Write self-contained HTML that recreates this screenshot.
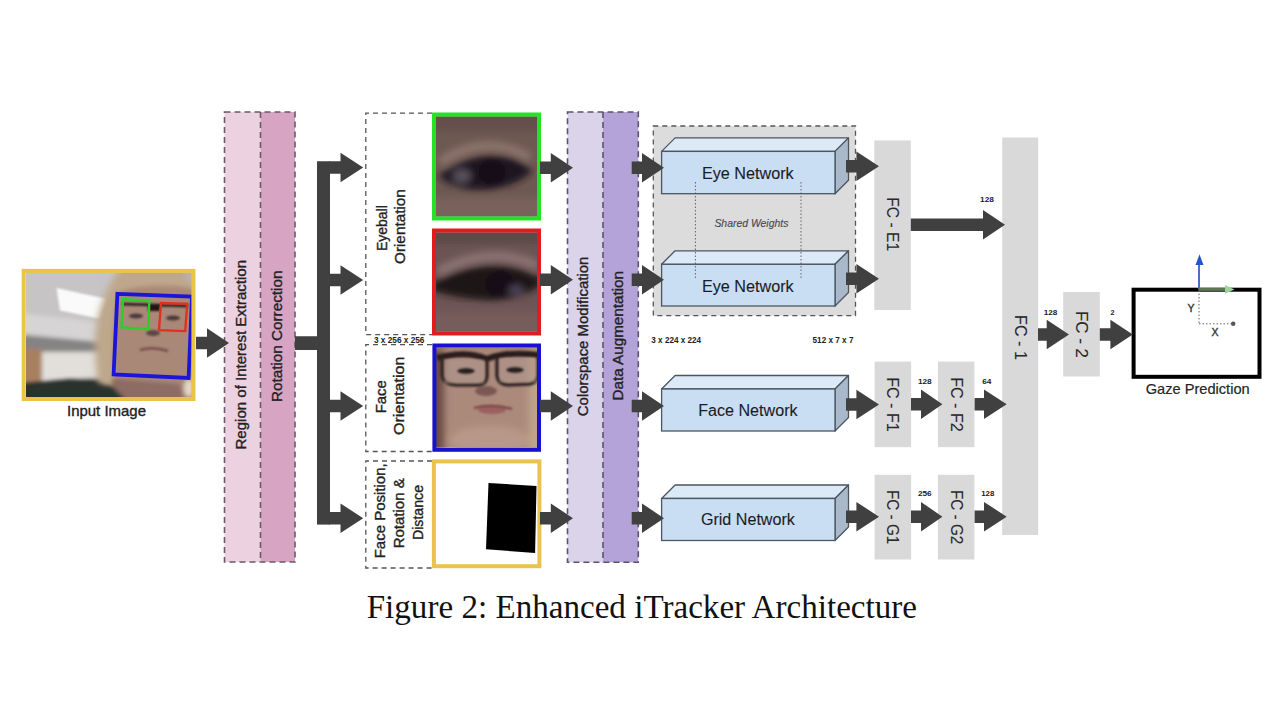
<!DOCTYPE html>
<html><head><meta charset="utf-8"><style>
html,body{margin:0;padding:0;background:#fff;width:1280px;height:720px;overflow:hidden}
svg{display:block}
</style></head><body>
<svg width="1280" height="720" viewBox="0 0 1280 720">
<rect width="1280" height="720" fill="#fff"/>
<g>
<defs>
<filter id="bl1" x="-20%" y="-20%" width="140%" height="140%"><feGaussianBlur stdDeviation="2"/></filter>
<filter id="bl2" x="-20%" y="-20%" width="140%" height="140%"><feGaussianBlur stdDeviation="3.5"/></filter>
<filter id="bl3" x="-20%" y="-20%" width="140%" height="140%"><feGaussianBlur stdDeviation="1.2"/></filter>
<filter id="bl4" x="-20%" y="-20%" width="140%" height="140%"><feGaussianBlur stdDeviation="0.8"/></filter>
<clipPath id="cpIn"><rect x="26" y="272.5" width="166" height="125"/></clipPath>
<clipPath id="cpE1"><rect x="436" y="116.5" width="101" height="100"/></clipPath>
<clipPath id="cpE2"><rect x="436" y="232.5" width="101" height="99"/></clipPath>
<clipPath id="cpF"><rect x="436" y="347.5" width="101" height="100"/></clipPath>
</defs>
<g clip-path="url(#cpIn)">
 <rect x="20" y="265" width="180" height="140" fill="#c2c0c0"/>
 <g filter="url(#bl1)">
  <rect x="10" y="260" width="120" height="60" fill="#c6c4c5"/>
  <polygon points="10,312 125,325 125,345 10,332" fill="#d6d4d4"/>
  <polygon points="10,334 125,344 125,358 10,352" fill="#858383"/>
  <rect x="10" y="352" width="120" height="34" fill="#e2deda"/>
  <rect x="10" y="349" width="32" height="36" fill="#a88060"/>
  <polygon points="10,384 60,380 100,378 135,384 135,410 10,410" fill="#2a2e2c"/>
 </g>
 <polygon points="56.5,288 107,299 99.8,318.7 60,310.6" fill="#fafafa" filter="url(#bl4)"/>
 <g filter="url(#bl2)">
  <path d="M200,260 L126,262 Q100,290 95,335 Q94,375 104,410 L200,410 Z" fill="#bea78a"/>
  <polygon points="178,262 200,262 200,300" fill="#b8b4b2"/>
 </g>
 <g filter="url(#bl1)">
  <path d="M200,292 L190,288 Q150,282 118,292 Q112,330 114,372 L122,410 L200,410 Z" fill="#a98878"/>
  <path d="M112,378 L180,384 L186,410 L112,410 Z" fill="#8c6c64"/>
  <ellipse cx="189" cy="388" rx="5" ry="9" fill="#e4d8c8"/>
  <polygon points="20,386 70,380 112,386 124,398 124,410 20,410" fill="#2c302e"/>
 </g>
 <g filter="url(#bl4)">
  <path d="M122,304 L188,306" stroke="#1e1818" stroke-width="2.4"/>
  <rect x="148" y="305" width="12" height="6" fill="#201818"/>
  <ellipse cx="136" cy="316" rx="7" ry="2.5" fill="#4a3a3a"/>
  <ellipse cx="173" cy="318" rx="7" ry="2.5" fill="#4a3a3a"/>
  <ellipse cx="153" cy="333" rx="7" ry="3" fill="#5e4444"/>
  <path d="M140,350 Q153,346 168,351" stroke="#7a4c4a" stroke-width="2.6" fill="none"/>
 </g>
</g>
<polygon points="117.4,293.8 192,296.5 188.6,378 113.6,374.5" fill="none" stroke="#1c14d8" stroke-width="3.8"/>
<polygon points="123,299 149.3,301 148.3,329.2 121.5,327.2" fill="none" stroke="#28d028" stroke-width="2.4"/>
<polygon points="161,303 187.2,303.9 185.2,331.1 159,330.1" fill="none" stroke="#e03020" stroke-width="2.4"/>
<rect x="23.7" y="270.9" width="169.7" height="128.1" fill="none" stroke="#e9c447" stroke-width="4"/>
</g>
<text x="106.5" y="410.5" font-family="Liberation Sans" font-size="14.5" font-weight="normal" font-style="normal" fill="#222" stroke="#222" stroke-width="0.35" text-anchor="middle" dominant-baseline="central" textLength="79" lengthAdjust="spacingAndGlyphs" >Input Image</text>
<rect x="224.5" y="112" width="36" height="450" fill="#ecd1e1"/>
<rect x="260.5" y="112" width="34.5" height="450" fill="#d7a5c3"/>
<rect x="224.5" y="112" width="70.5" height="450" stroke="#6a5a66" stroke-width="1.6" stroke-dasharray="6,4" fill="none"/>
<line x1="260.5" y1="112" x2="260.5" y2="562" stroke="#6a5a66" stroke-width="1.6" stroke-dasharray="6,4" fill="none"/>
<text x="241.5" y="354.7" font-family="Liberation Sans" font-size="14.5" font-weight="normal" font-style="normal" fill="#222" stroke="#222" stroke-width="0.35" text-anchor="middle" dominant-baseline="central" textLength="189.6" lengthAdjust="spacingAndGlyphs" transform="rotate(-90 241.5 354.7)" >Region of Interest Extraction</text>
<text x="276.6" y="336.3" font-family="Liberation Sans" font-size="14.5" font-weight="normal" font-style="normal" fill="#222" stroke="#222" stroke-width="0.35" text-anchor="middle" dominant-baseline="central" textLength="131.4" lengthAdjust="spacingAndGlyphs" transform="rotate(-90 276.6 336.3)" >Rotation Correction</text>
<rect x="295" y="336.25" width="23" height="13.75" fill="#404040"/>
<rect x="317" y="161.25" width="13" height="363.35" fill="#404040"/>
<path d="M432,113.2 L365.8,113.2 L365.8,334.6 L432,334.6" stroke="#555" stroke-width="1.3" stroke-dasharray="5,4" fill="none"/>
<path d="M432,344.6 L365.8,344.6 L365.8,451.5 L432,451.5" stroke="#555" stroke-width="1.3" stroke-dasharray="5,4" fill="none"/>
<path d="M432,461 L365.8,461 L365.8,568 L432,568" stroke="#555" stroke-width="1.3" stroke-dasharray="5,4" fill="none"/>
<text x="381.7" y="228.1" font-family="Liberation Sans" font-size="14.5" font-weight="normal" font-style="normal" fill="#222" stroke="#222" stroke-width="0.35" text-anchor="middle" dominant-baseline="central" textLength="45.8" lengthAdjust="spacingAndGlyphs" transform="rotate(-90 381.7 228.1)" >Eyeball</text>
<text x="400.5" y="226.6" font-family="Liberation Sans" font-size="14.5" font-weight="normal" font-style="normal" fill="#222" stroke="#222" stroke-width="0.35" text-anchor="middle" dominant-baseline="central" textLength="74.8" lengthAdjust="spacingAndGlyphs" transform="rotate(-90 400.5 226.6)" >Orientation</text>
<text x="380.8" y="396.7" font-family="Liberation Sans" font-size="14.5" font-weight="normal" font-style="normal" fill="#222" stroke="#222" stroke-width="0.35" text-anchor="middle" dominant-baseline="central" textLength="33.3" lengthAdjust="spacingAndGlyphs" transform="rotate(-90 380.8 396.7)" >Face</text>
<text x="398.6" y="395.8" font-family="Liberation Sans" font-size="14.5" font-weight="normal" font-style="normal" fill="#222" stroke="#222" stroke-width="0.35" text-anchor="middle" dominant-baseline="central" textLength="78.3" lengthAdjust="spacingAndGlyphs" transform="rotate(-90 398.6 395.8)" >Orientation</text>
<text x="379.6" y="510.8" font-family="Liberation Sans" font-size="14.5" font-weight="normal" font-style="normal" fill="#222" stroke="#222" stroke-width="0.35" text-anchor="middle" dominant-baseline="central" textLength="95" lengthAdjust="spacingAndGlyphs" transform="rotate(-90 379.6 510.8)" >Face Position,</text>
<text x="399.3" y="513.3" font-family="Liberation Sans" font-size="14.5" font-weight="normal" font-style="normal" fill="#222" stroke="#222" stroke-width="0.35" text-anchor="middle" dominant-baseline="central" textLength="70" lengthAdjust="spacingAndGlyphs" transform="rotate(-90 399.3 513.3)" >Rotation &amp;</text>
<text x="417.8" y="512.5" font-family="Liberation Sans" font-size="14.5" font-weight="normal" font-style="normal" fill="#222" stroke="#222" stroke-width="0.35" text-anchor="middle" dominant-baseline="central" textLength="55" lengthAdjust="spacingAndGlyphs" transform="rotate(-90 417.8 512.5)" >Distance</text>
<text x="399.2" y="339.6" font-family="Liberation Sans" font-size="8.5" font-weight="bold" font-style="normal" fill="#222" stroke="#222" stroke-width="0" text-anchor="middle" dominant-baseline="central" textLength="50.4" lengthAdjust="spacingAndGlyphs" >3 x 256 x 256</text>
<g clip-path="url(#cpE1)">
<rect x="430" y="110" width="115" height="115" fill="#6e5852"/>
<g filter="url(#bl2)">
 <rect x="425" y="105" width="120" height="26" fill="#64504c"/>
 <path d="M440,162 Q486,132 530,158" stroke="#8c746c" stroke-width="9" fill="none"/>
 <path d="M438,176 Q470,152 500,156 Q522,158 532,172 Q510,190 480,190 Q455,190 438,176 Z" fill="#1e1820"/>
 <ellipse cx="462" cy="176" rx="9" ry="7" fill="#56505c"/>
 <ellipse cx="492" cy="172" rx="14" ry="12" fill="#141018"/>
 <rect x="425" y="198" width="120" height="28" fill="#7a625c"/>
</g>
</g>
<rect x="434" y="114.5" width="105" height="104" fill="none" stroke="#26e226" stroke-width="4"/>
<g clip-path="url(#cpE2)">
<rect x="430" y="225" width="115" height="115" fill="#6c5454"/>
<g filter="url(#bl2)">
 <rect x="425" y="220" width="120" height="24" fill="#5e4a4a"/>
 <path d="M438,272 Q490,244 538,266" stroke="#8e7474" stroke-width="9" fill="none"/>
 <path d="M430,284 Q470,262 505,266 Q530,270 545,282 Q520,302 485,300 Q455,298 430,290 Z" fill="#1c1619"/>
 <ellipse cx="500" cy="284" rx="15" ry="12" fill="#120e12"/>
 <ellipse cx="516" cy="290" rx="8" ry="5" fill="#4a4254"/>
 <rect x="425" y="310" width="120" height="28" fill="#765c5a"/>
</g>
</g>
<rect x="434" y="230.5" width="105" height="103" fill="none" stroke="#e21c1c" stroke-width="4"/>
<g clip-path="url(#cpF)">
<rect x="430" y="340" width="115" height="115" fill="#ab8a7c"/>
<g filter="url(#bl2)">
 <rect x="425" y="335" width="19" height="120" fill="#6a4c42"/>
 <rect x="529" y="335" width="16" height="120" fill="#c0a488"/>
 <ellipse cx="490" cy="440" rx="40" ry="14" fill="#b89888"/>
 <rect x="425" y="335" width="120" height="14" fill="#a08070"/>
</g>
<g filter="url(#bl4)">
 <path d="M437,358 Q466,350 487,359 Q506,351 540,355" stroke="#2a1e1e" stroke-width="6" fill="none"/>
 <path d="M442,358 L442,376 Q444,384 456,385 L478,385 Q487,384 487,376 L487,360" stroke="#352826" stroke-width="3.6" fill="none"/>
 <path d="M497,358 L497,376 Q498,384 508,385 L530,384 Q538,382 538,374 L538,356" stroke="#352826" stroke-width="3.6" fill="none"/>
 <rect x="445" y="360" width="39" height="23" fill="#b0988e" opacity="0.55"/>
 <rect x="500" y="359" width="36" height="23" fill="#b0988e" opacity="0.55"/>
 <ellipse cx="466" cy="371" rx="9" ry="3.2" fill="#2c2020"/>
 <ellipse cx="515" cy="370" rx="9" ry="3.2" fill="#2c2020"/>
 <ellipse cx="486" cy="391" rx="11" ry="5" fill="#7c5852"/>
 <ellipse cx="492" cy="410" rx="14" ry="4" fill="#9a6060"/>
 <path d="M474,408 Q492,403 512,409" stroke="#7a3e3e" stroke-width="2.2" fill="none"/>
</g>
</g>
<rect x="434.4" y="345.5" width="104.6" height="104.3" fill="none" stroke="#1a10d0" stroke-width="4"/>
<rect x="433.9" y="461.4" width="105.5" height="104.8" fill="#fff" stroke="#e9c24f" stroke-width="4"/>
<polygon points="488.5,482.9 536.5,486.1 535.1,552.9 486,549.3" fill="#000"/>
<rect x="567.5" y="112" width="35.5" height="450.3" fill="#dbd3ea"/>
<rect x="603" y="112" width="35.3" height="450.3" fill="#b3a3d8"/>
<rect x="567.5" y="112" width="70.8" height="450.3" stroke="#5a5566" stroke-width="1.6" stroke-dasharray="6,4" fill="none"/>
<line x1="603" y1="112" x2="603" y2="562.3" stroke="#5a5566" stroke-width="1.6" stroke-dasharray="6,4" fill="none"/>
<text x="583.4" y="336.4" font-family="Liberation Sans" font-size="14.5" font-weight="normal" font-style="normal" fill="#222" stroke="#222" stroke-width="0.35" text-anchor="middle" dominant-baseline="central" textLength="159.6" lengthAdjust="spacingAndGlyphs" transform="rotate(-90 583.4 336.4)" >Colorspace Modification</text>
<text x="618.2" y="335.7" font-family="Liberation Sans" font-size="14.5" font-weight="normal" font-style="normal" fill="#222" stroke="#222" stroke-width="0.35" text-anchor="middle" dominant-baseline="central" textLength="129.4" lengthAdjust="spacingAndGlyphs" transform="rotate(-90 618.2 335.7)" >Data Augmentation</text>
<rect x="653.3" y="126" width="202.2" height="189.6" fill="#dcdcdc" stroke="#555" stroke-width="1.3" stroke-dasharray="5,4"/>
<text x="751.4" y="223" font-family="Liberation Sans" font-size="11.5" font-weight="normal" font-style="italic" fill="#4a4a4a" stroke="#4a4a4a" stroke-width="0.15" text-anchor="middle" dominant-baseline="central" textLength="74" lengthAdjust="spacingAndGlyphs" >Shared Weights</text>
<polygon points="661.6,151.4 675.1,137.9 848.5,137.9 835,151.4" fill="#dce9f7" stroke="#4a5661" stroke-width="1.3" stroke-linejoin="round"/>
<polygon points="835,151.4 848.5,137.9 848.5,180.2 835,193.7" fill="#a9b9cb" stroke="#4a5661" stroke-width="1.3" stroke-linejoin="round"/>
<rect x="661.6" y="151.4" width="173.39999999999998" height="42.29999999999998" fill="#c9def3" stroke="#4a5661" stroke-width="1.3"/>
<text x="747.8" y="173.6" font-family="Liberation Sans" font-size="16" font-weight="normal" font-style="normal" fill="#1c1c28" stroke="#1c1c28" stroke-width="0.1" text-anchor="middle" dominant-baseline="central" textLength="91.8" lengthAdjust="spacingAndGlyphs" >Eye Network</text>
<polygon points="661.6,264.3 675.1,250.8 848.5,250.8 835,264.3" fill="#dce9f7" stroke="#4a5661" stroke-width="1.3" stroke-linejoin="round"/>
<polygon points="835,264.3 848.5,250.8 848.5,292.5 835,306" fill="#a9b9cb" stroke="#4a5661" stroke-width="1.3" stroke-linejoin="round"/>
<rect x="661.6" y="264.3" width="173.39999999999998" height="41.69999999999999" fill="#c9def3" stroke="#4a5661" stroke-width="1.3"/>
<text x="747.8" y="286.5" font-family="Liberation Sans" font-size="16" font-weight="normal" font-style="normal" fill="#1c1c28" stroke="#1c1c28" stroke-width="0.1" text-anchor="middle" dominant-baseline="central" textLength="91.8" lengthAdjust="spacingAndGlyphs" >Eye Network</text>
<line x1="695.4" y1="182" x2="695.4" y2="278" stroke="#555" stroke-width="0.9" stroke-dasharray="1.5,2"/>
<line x1="801" y1="182" x2="801" y2="278" stroke="#555" stroke-width="0.9" stroke-dasharray="1.5,2"/>
<polygon points="661.6,389 675.1,375.5 848.5,375.5 835,389" fill="#dce9f7" stroke="#4a5661" stroke-width="1.3" stroke-linejoin="round"/>
<polygon points="835,389 848.5,375.5 848.5,417.5 835,431" fill="#a9b9cb" stroke="#4a5661" stroke-width="1.3" stroke-linejoin="round"/>
<rect x="661.6" y="389" width="173.39999999999998" height="42" fill="#c9def3" stroke="#4a5661" stroke-width="1.3"/>
<text x="747.9" y="410.4" font-family="Liberation Sans" font-size="16" font-weight="normal" font-style="normal" fill="#1c1c28" stroke="#1c1c28" stroke-width="0.1" text-anchor="middle" dominant-baseline="central" textLength="99.4" lengthAdjust="spacingAndGlyphs" >Face Network</text>
<polygon points="661.6,498.5 675.1,485.0 848.5,485.0 835,498.5" fill="#dce9f7" stroke="#4a5661" stroke-width="1.3" stroke-linejoin="round"/>
<polygon points="835,498.5 848.5,485.0 848.5,527.0 835,540.5" fill="#a9b9cb" stroke="#4a5661" stroke-width="1.3" stroke-linejoin="round"/>
<rect x="661.6" y="498.5" width="173.39999999999998" height="42.0" fill="#c9def3" stroke="#4a5661" stroke-width="1.3"/>
<text x="747.9" y="519.5" font-family="Liberation Sans" font-size="16" font-weight="normal" font-style="normal" fill="#1c1c28" stroke="#1c1c28" stroke-width="0.1" text-anchor="middle" dominant-baseline="central" textLength="94" lengthAdjust="spacingAndGlyphs" >Grid Network</text>
<text x="676.2" y="339.7" font-family="Liberation Sans" font-size="8.5" font-weight="bold" font-style="normal" fill="#222" stroke="#222" stroke-width="0" text-anchor="middle" dominant-baseline="central" textLength="49.7" lengthAdjust="spacingAndGlyphs" >3 x 224 x 224</text>
<text x="833" y="340" font-family="Liberation Sans" font-size="8.5" font-weight="bold" font-style="normal" fill="#222" stroke="#222" stroke-width="0" text-anchor="middle" dominant-baseline="central" textLength="40.9" lengthAdjust="spacingAndGlyphs" >512 x 7 x 7</text>
<rect x="874.3" y="140.4" width="36.5" height="169.6" fill="#d9d9d9"/>
<text x="892.7" y="224.2" font-family="Liberation Sans" font-size="16" font-weight="normal" font-style="normal" fill="#282828" stroke="#282828" stroke-width="0.1" text-anchor="middle" dominant-baseline="central" textLength="53.9" lengthAdjust="spacingAndGlyphs" transform="rotate(90 892.7 224.2)" >FC - E1</text>
<rect x="1002.2" y="137.5" width="36" height="397.5" fill="#d9d9d9"/>
<text x="1020.2" y="337.5" font-family="Liberation Sans" font-size="16" font-weight="normal" font-style="normal" fill="#282828" stroke="#282828" stroke-width="0.1" text-anchor="middle" dominant-baseline="central" textLength="45" lengthAdjust="spacingAndGlyphs" transform="rotate(90 1020.2 337.5)" >FC - 1</text>
<rect x="874.6" y="361.6" width="36.5" height="85.59999999999997" fill="#d9d9d9"/>
<text x="892.8000000000001" y="404.4" font-family="Liberation Sans" font-size="16" font-weight="normal" font-style="normal" fill="#282828" stroke="#282828" stroke-width="0.1" text-anchor="middle" dominant-baseline="central" textLength="54.5" lengthAdjust="spacingAndGlyphs" transform="rotate(90 892.8000000000001 404.4)" >FC - F1</text>
<rect x="937.9" y="361.6" width="36.5" height="85.59999999999997" fill="#d9d9d9"/>
<text x="956.1" y="404.4" font-family="Liberation Sans" font-size="16" font-weight="normal" font-style="normal" fill="#282828" stroke="#282828" stroke-width="0.1" text-anchor="middle" dominant-baseline="central" textLength="54.5" lengthAdjust="spacingAndGlyphs" transform="rotate(90 956.1 404.4)" >FC - F2</text>
<rect x="874.6" y="474.8" width="36.5" height="84.69999999999999" fill="#d9d9d9"/>
<text x="892.8000000000001" y="517.15" font-family="Liberation Sans" font-size="16" font-weight="normal" font-style="normal" fill="#282828" stroke="#282828" stroke-width="0.1" text-anchor="middle" dominant-baseline="central" textLength="54.5" lengthAdjust="spacingAndGlyphs" transform="rotate(90 892.8000000000001 517.15)" >FC - G1</text>
<rect x="937.9" y="474.8" width="36.5" height="84.69999999999999" fill="#d9d9d9"/>
<text x="956.1" y="517.15" font-family="Liberation Sans" font-size="16" font-weight="normal" font-style="normal" fill="#282828" stroke="#282828" stroke-width="0.1" text-anchor="middle" dominant-baseline="central" textLength="54.5" lengthAdjust="spacingAndGlyphs" transform="rotate(90 956.1 517.15)" >FC - G2</text>
<rect x="1063.2" y="292" width="36.6" height="84.5" fill="#d9d9d9"/>
<text x="1081.5" y="334.5" font-family="Liberation Sans" font-size="16" font-weight="normal" font-style="normal" fill="#282828" stroke="#282828" stroke-width="0.1" text-anchor="middle" dominant-baseline="central" textLength="47" lengthAdjust="spacingAndGlyphs" transform="rotate(90 1081.5 334.5)" >FC - 2</text>
<text x="987" y="199.3" font-family="Liberation Sans" font-size="8" font-weight="bold" font-style="normal" fill="#222" stroke="#222" stroke-width="0" text-anchor="middle" dominant-baseline="central" textLength="13.8" lengthAdjust="spacingAndGlyphs" >128</text>
<text x="924.8" y="381.5" font-family="Liberation Sans" font-size="8" font-weight="bold" font-style="normal" fill="#222" stroke="#222" stroke-width="0" text-anchor="middle" dominant-baseline="central" textLength="13.7" lengthAdjust="spacingAndGlyphs" >128</text>
<text x="986.8" y="381.5" font-family="Liberation Sans" font-size="8" font-weight="bold" font-style="normal" fill="#222" stroke="#222" stroke-width="0" text-anchor="middle" dominant-baseline="central" textLength="9.2" lengthAdjust="spacingAndGlyphs" >64</text>
<text x="924.8" y="493.7" font-family="Liberation Sans" font-size="8" font-weight="bold" font-style="normal" fill="#222" stroke="#222" stroke-width="0" text-anchor="middle" dominant-baseline="central" textLength="13.7" lengthAdjust="spacingAndGlyphs" >256</text>
<text x="987.8" y="493.7" font-family="Liberation Sans" font-size="8" font-weight="bold" font-style="normal" fill="#222" stroke="#222" stroke-width="0" text-anchor="middle" dominant-baseline="central" textLength="13.1" lengthAdjust="spacingAndGlyphs" >128</text>
<text x="1050.5" y="312" font-family="Liberation Sans" font-size="8" font-weight="bold" font-style="normal" fill="#222" stroke="#222" stroke-width="0" text-anchor="middle" dominant-baseline="central" textLength="13.5" lengthAdjust="spacingAndGlyphs" >128</text>
<text x="1112.5" y="312" font-family="Liberation Sans" font-size="8" font-weight="bold" font-style="normal" fill="#222" stroke="#222" stroke-width="0" text-anchor="middle" dominant-baseline="central" textLength="4" lengthAdjust="spacingAndGlyphs" >2</text>
<rect x="1133.6" y="289.7" width="125.9" height="87.1" fill="#fff" stroke="#000" stroke-width="4"/>
<line x1="1199" y1="290" x2="1199" y2="323.8" stroke="#666" stroke-width="1" stroke-dasharray="1.5,2"/>
<line x1="1199" y1="323.8" x2="1233" y2="323.8" stroke="#666" stroke-width="1" stroke-dasharray="1.5,2"/>
<circle cx="1233.2" cy="323.8" r="2.2" fill="#555"/>
<line x1="1199" y1="289.6" x2="1199" y2="264" stroke="#4a70c0" stroke-width="2"/>
<polygon points="1195.5,265 1199.5,254.2 1203.5,265" fill="#2456c8"/>
<line x1="1199" y1="289.4" x2="1226" y2="289.4" stroke="#5c7656" stroke-width="3"/>
<polygon points="1225,285 1234.5,289.4 1225,293.8" fill="#9cd498"/>
<text x="1191" y="308.5" font-family="Liberation Sans" font-size="10" font-weight="normal" font-style="normal" fill="#333" stroke="#333" stroke-width="0.35" text-anchor="middle" dominant-baseline="central" textLength="7" lengthAdjust="spacingAndGlyphs" >Y</text>
<text x="1215" y="332" font-family="Liberation Sans" font-size="10" font-weight="normal" font-style="normal" fill="#333" stroke="#333" stroke-width="0.35" text-anchor="middle" dominant-baseline="central" textLength="7" lengthAdjust="spacingAndGlyphs" >X</text>
<text x="1197.7" y="388.5" font-family="Liberation Sans" font-size="14.5" font-weight="normal" font-style="normal" fill="#262626" stroke="#262626" stroke-width="0.2" text-anchor="middle" dominant-baseline="central" textLength="104" lengthAdjust="spacingAndGlyphs" >Gaze Prediction</text>
<text x="366.7" y="617.5" font-family="Liberation Serif" font-size="33" fill="#111" textLength="550.3" lengthAdjust="spacingAndGlyphs">Figure 2: Enhanced iTracker Architecture</text><path d="M196,336.75 L207,336.75 L207,328.25 L229,343 L207,357.75 L207,349.25 L196,349.25 Z" fill="#404040"/>
<path d="M329,161.25 L340.5,161.25 L340.5,152.75 L363.2,167.5 L340.5,182.25 L340.5,173.75 L329,173.75 Z" fill="#404040"/>
<path d="M329,273.75 L340.5,273.75 L340.5,265.25 L363.2,280 L340.5,294.75 L340.5,286.25 L329,286.25 Z" fill="#404040"/>
<path d="M329,399.75 L340.5,399.75 L340.5,391.25 L363.2,406 L340.5,420.75 L340.5,412.25 L329,412.25 Z" fill="#404040"/>
<path d="M329,511.95 L340.5,511.95 L340.5,503.45 L363.2,518.2 L340.5,532.95 L340.5,524.45 L329,524.45 Z" fill="#404040"/>
<path d="M540,161.45 L550.8,161.45 L550.8,152.95 L573,167.7 L550.8,182.45 L550.8,173.95 L540,173.95 Z" fill="#404040"/>
<path d="M540,273.55 L550.8,273.55 L550.8,265.05 L573,279.8 L550.8,294.55 L550.8,286.05 L540,286.05 Z" fill="#404040"/>
<path d="M540,399.75 L550.8,399.75 L550.8,391.25 L573,406 L550.8,420.75 L550.8,412.25 L540,412.25 Z" fill="#404040"/>
<path d="M540,511.95 L550.8,511.95 L550.8,503.45 L573,518.2 L550.8,532.95 L550.8,524.45 L540,524.45 Z" fill="#404040"/>
<path d="M631.7,161.45 L642,161.45 L642,152.95 L664,167.7 L642,182.45 L642,173.95 L631.7,173.95 Z" fill="#404040"/>
<path d="M631.7,273.55 L642,273.55 L642,265.05 L664,279.8 L642,294.55 L642,286.05 L631.7,286.05 Z" fill="#404040"/>
<path d="M631.7,399.75 L642,399.75 L642,391.25 L664,406 L642,420.75 L642,412.25 L631.7,412.25 Z" fill="#404040"/>
<path d="M631.7,511.95 L642,511.95 L642,503.45 L664,518.2 L642,532.95 L642,524.45 L631.7,524.45 Z" fill="#404040"/>
<path d="M846,160.05 L856.4,160.05 L856.4,151.55 L879,166.3 L856.4,181.05 L856.4,172.55 L846,172.55 Z" fill="#404040"/>
<path d="M846,272.55 L856.4,272.55 L856.4,264.05 L879,278.8 L856.4,293.55 L856.4,285.05 L846,285.05 Z" fill="#404040"/>
<path d="M846,398.25 L856.4,398.25 L856.4,389.75 L879,404.5 L856.4,419.25 L856.4,410.75 L846,410.75 Z" fill="#404040"/>
<path d="M846,510.45 L856.4,510.45 L856.4,501.95 L879,516.7 L856.4,531.45 L856.4,522.95 L846,522.95 Z" fill="#404040"/>
<path d="M910.8,218.45 L983,218.45 L983,209.95 L1005,224.7 L983,239.45 L983,230.95 L910.8,230.95 Z" fill="#404040"/>
<path d="M911,398.05 L921,398.05 L921,389.55 L942.4,404.3 L921,419.05 L921,410.55 L911,410.55 Z" fill="#404040"/>
<path d="M974.6,398.05 L984,398.05 L984,389.55 L1006.7,404.3 L984,419.05 L984,410.55 L974.6,410.55 Z" fill="#404040"/>
<path d="M911,510.45 L921,510.45 L921,501.95 L942.4,516.7 L921,531.45 L921,522.95 L911,522.95 Z" fill="#404040"/>
<path d="M974.6,510.45 L984,510.45 L984,501.95 L1006.7,516.7 L984,531.45 L984,522.95 L974.6,522.95 Z" fill="#404040"/>
<path d="M1038,328.25 L1046.7,328.25 L1046.7,319.75 L1069,334.5 L1046.7,349.25 L1046.7,340.75 L1038,340.75 Z" fill="#404040"/>
<path d="M1099.8,328.25 L1110.4,328.25 L1110.4,319.75 L1132.8,334.5 L1110.4,349.25 L1110.4,340.75 L1099.8,340.75 Z" fill="#404040"/>
</svg>
</body></html>
